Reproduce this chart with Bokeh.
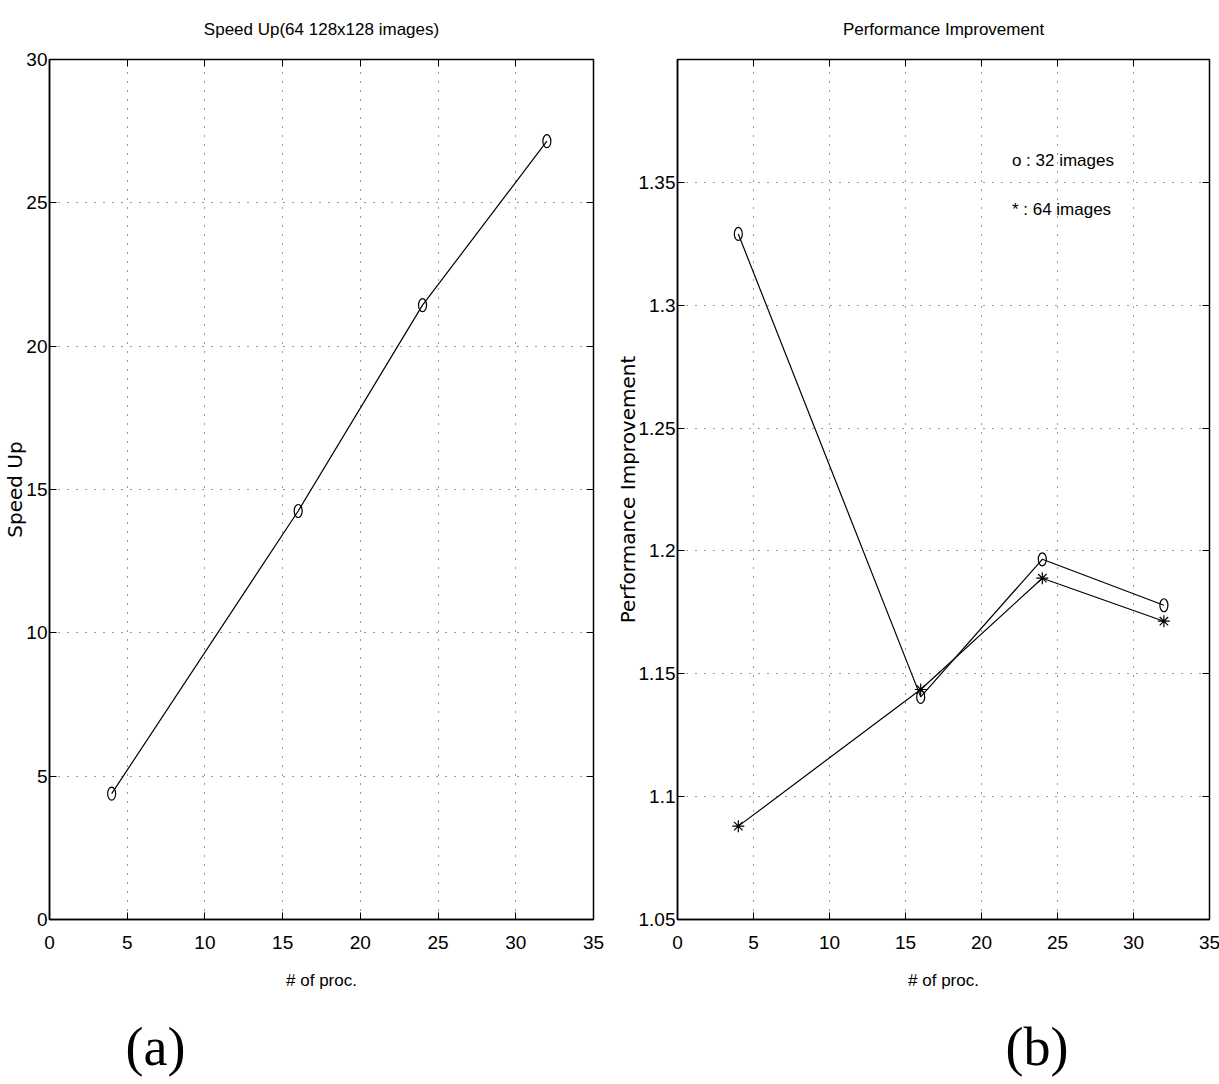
from bokeh.plotting import figure
from bokeh.layouts import row
from bokeh.models import (FixedTicker, LinearAxis, Title, CustomJSTickFormatter, Range1d,
                          CustomLabelingPolicy)
from bokeh.embed import file_html
from bokeh.resources import INLINE
from bokeh.core.properties import value

# ---------------- data ----------------
procs = [4, 16, 24, 32]
speedup = [4.39, 14.25, 21.43, 27.15]
perf_32_images = [1.329, 1.1406, 1.1966, 1.1779]
perf_64_images = [1.088, 1.1436, 1.1889, 1.1714]

x_ticks = [0, 5, 10, 15, 20, 25, 30, 35]
speed_ticks = [0, 5, 10, 15, 20, 25, 30]
perf_ticks = [1.05, 1.1, 1.15, 1.2, 1.25, 1.3, 1.35]

legend_texts = ["o : 32 images", "* : 64 images"]

SANS = "Liberation Sans"
WIDE = "DejaVu Sans"
SERIF = "Liberation Serif"

hide_all = CustomLabelingPolicy(code="""
for (const i of Array.from(indices)) { indices.unset(i) }
return indices
""")


def style(p, xticks, yticks, ylabel, formatter=None):
    p.outline_line_color = "black"
    p.outline_line_width = 1.5
    p.xaxis.ticker = FixedTicker(ticks=xticks)
    p.yaxis.ticker = FixedTicker(ticks=yticks)
    if formatter is not None:
        p.yaxis.formatter = formatter
    for ax in (p.xaxis[0], p.yaxis[0]):
        ax.major_tick_in = 7
        ax.major_tick_out = 0
        ax.minor_tick_line_color = None
        ax.axis_line_color = "black"
        ax.axis_line_width = 1.5
        ax.major_tick_line_color = "black"
        ax.major_label_text_font = SANS
        ax.major_label_text_font_size = "19px"
        ax.major_label_text_color = "black"
        ax.axis_label_text_color = "black"
    p.xaxis.major_label_standoff = 16
    p.yaxis.major_label_standoff = 2
    p.xaxis.axis_label = "# of proc."
    p.xaxis.axis_label_text_font = SANS
    p.xaxis.axis_label_text_font_size = "17px"
    p.xaxis.axis_label_text_font_style = "normal"
    p.xaxis.axis_label_standoff = 19
    p.yaxis.axis_label = ylabel
    p.yaxis.axis_label_text_font = WIDE
    p.yaxis.axis_label_text_font_size = "20px"
    p.yaxis.axis_label_text_font_style = "normal"
    p.yaxis.axis_label_standoff = -4
    # ticks on top and right (inside), no labels
    top = LinearAxis(ticker=FixedTicker(ticks=xticks), major_label_policy=hide_all,
                     major_label_standoff=0, major_tick_in=7, major_tick_out=0,
                     minor_tick_line_color=None, axis_line_color="black")
    right = LinearAxis(ticker=FixedTicker(ticks=yticks), major_label_policy=hide_all,
                       major_label_standoff=0, major_tick_in=7, major_tick_out=0,
                       minor_tick_line_color=None, axis_line_color="black")
    p.add_layout(top, "above")
    p.add_layout(right, "right")
    for g in (p.xgrid[0], p.ygrid[0]):
        g.grid_line_color = "#333333"
        g.grid_line_dash = "1 8"
        g.grid_line_width = 1
    p.title.align = "center"
    p.title.text_font = SANS
    p.title.text_font_size = "17px"
    p.title.text_font_style = "normal"
    p.title.text_color = "black"
    p.title.standoff = 20


# ---------------- left panel ----------------
p1 = figure(frame_width=544, frame_height=860, min_border_left=49, min_border_right=19,
            min_border_top=59, min_border_bottom=165,
            x_range=Range1d(0, 35), y_range=Range1d(0, 30),
            title="Speed Up(64 128x128 images)",
            output_backend="svg", toolbar_location=None)
style(p1, x_ticks, speed_ticks, "Speed Up")
p1.line(procs, speedup, line_color="black", line_width=1.2)
p1.ellipse(x=procs, y=speedup, width=8, height=13, width_units="screen", height_units="screen",
           fill_color=None, line_color="black", line_width=1.2)
p1.add_layout(Title(text="(a)", align="left", offset=76, text_font=SERIF, text_font_size="54px",
                    text_font_style="normal", text_color="black", standoff=45), "below")

# ---------------- right panel ----------------
p2 = figure(frame_width=532, frame_height=860, min_border_left=64, min_border_right=11,
            min_border_top=59, min_border_bottom=165,
            x_range=Range1d(0, 35), y_range=Range1d(1.05, 1.40),
            title="Performance Improvement",
            output_backend="svg", toolbar_location=None)
fmt = CustomJSTickFormatter(code="return String(Math.round(tick*100)/100);")
style(p2, x_ticks, perf_ticks, "Performance Improvement", fmt)
p2.line(procs, perf_32_images, line_color="black", line_width=1.2)
p2.ellipse(x=procs, y=perf_32_images, width=8, height=13, width_units="screen",
           height_units="screen", fill_color=None, line_color="black", line_width=1.2)
p2.line(procs, perf_64_images, line_color="black", line_width=1.2)
p2.scatter(procs, perf_64_images, marker="asterisk", size=12, line_color="black", line_width=1.2)
p2.text(x=[22, 22], y=[1.359, 1.339], text=legend_texts, text_font=value(SANS),
        text_font_size="17px", text_baseline="middle", text_align="left", text_color="black")
p2.add_layout(Title(text="(b)", align="left", offset=328, text_font=SERIF, text_font_size="54px",
                    text_font_style="normal", text_color="black", standoff=45), "below")

layout = row(p1, p2)
open("out.html", "w").write(file_html(layout, INLINE))
